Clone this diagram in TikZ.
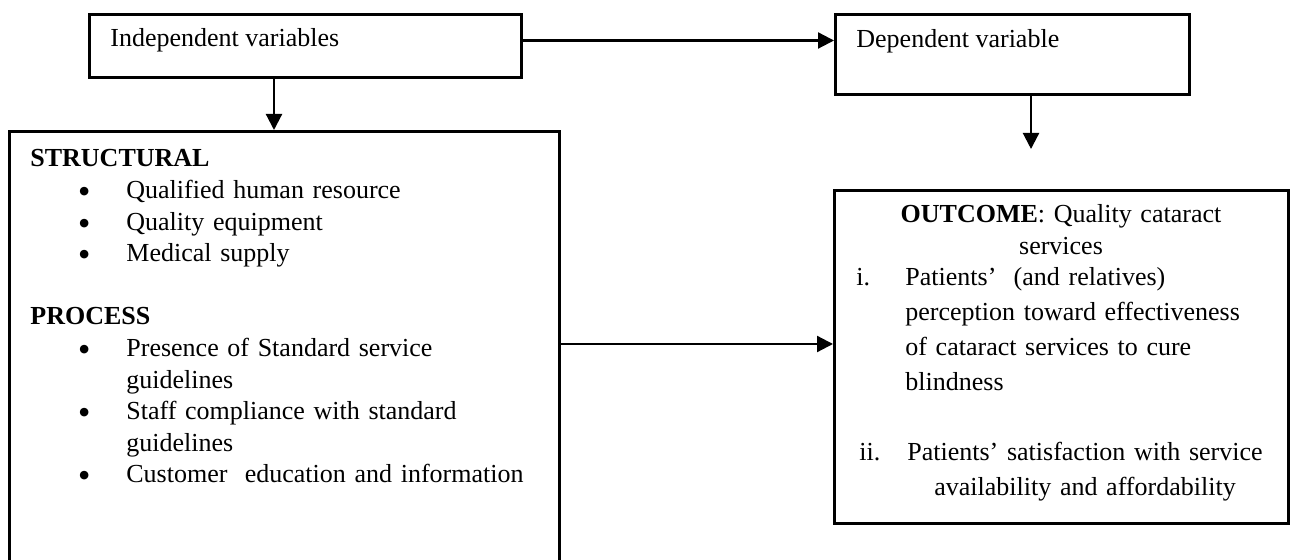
\documentclass[tikz,border=0pt]{standalone}
\usepackage{fontspec}
\setmainfont{Liberation Serif}
\newfontfamily\symfont{DejaVu Sans}
\usetikzlibrary{arrows.meta}

\tikzset{
    varbox/.style={rectangle, draw=black, line width=1.4pt, anchor=north west, inner sep=0pt},
    boxtext/.style={anchor=base west, inner sep=0pt, font=\fontsize{13pt}{15.8pt}\selectfont},
    listtext/.style={boxtext, font=\fontsize{13pt}{17.5pt}\selectfont},
    link/.style={-{Triangle[length=8pt, width=8pt]}, line width=1.1pt},
}
\newcommand{\bulletrow}{\makebox[48pt][l]{\hspace{24.5pt}\raisebox{2pt}{\symfont\fontsize{5.6pt}{0pt}\selectfont ●}}}

\begin{document}
\begin{tikzpicture}[x=0.5pt, y=-0.5pt]
    \clip (0,0) rectangle (1293,560);

    \node [varbox, minimum width=216pt, minimum height=31.5pt] (indep) at (88,13) {};
    \node [varbox, minimum width=177pt, minimum height=40pt] (dep) at (834,13) {};
    \node [varbox, minimum width=275pt, minimum height=225pt] (struct) at (8,130) {};
    \node [varbox, minimum width=227pt, minimum height=166.5pt] (outcome) at (833,189) {};

    \node [boxtext] (indeptext) at (110,47) {Independent variables};
    \node [boxtext] (deptext) at (856,48) {Dependent variable};

    \node [boxtext, text width=265pt, align=left] (structtext) at (30,167) {
        \textbf{STRUCTURAL}\\
        \bulletrow Qualified human resource\\
        \bulletrow Quality equipment\\
        \bulletrow Medical supply\\[15.8pt]
        \textbf{PROCESS}\\
        \bulletrow Presence of Standard service\\
        \hspace*{48pt}guidelines\\
        \bulletrow Staff compliance with standard\\
        \hspace*{48pt}guidelines\\
        \bulletrow Customer~ education and information
    };

    \node [boxtext, anchor=base, text width=227pt, align=center] (outhead) at (1061,223) {\textbf{OUTCOME}: Quality cataract\\services};
    \node [boxtext] (itemi) at (856,286) {i.};
    \node [listtext, text width=190pt, align=left] (itemitext) at (905,286) {Patients’~ (and relatives)\\perception toward effectiveness\\of cataract services to cure\\blindness};
    \node [boxtext] (itemii) at (859,460) {ii.};
    \node [listtext, anchor=base, text width=200pt, align=center] (itemiitext) at (1085,460) {Patients’ satisfaction with service\\availability and affordability};

    \coordinate (toprow) at (0,40.5);
    \coordinate (midrow) at (0,344);
    \coordinate (indepcol) at (274,0);
    \coordinate (deptip) at (1031,149);

    \draw [link] (indep.east |- toprow) -- (dep.west |- toprow);
    \draw [link] (indep.south -| indepcol) -- (struct.north -| indepcol);
    \draw [link] (dep.south -| deptip) -- (deptip);
    \draw [link] (struct.east |- midrow) -- (outcome.west |- midrow);
\end{tikzpicture}
\end{document}
